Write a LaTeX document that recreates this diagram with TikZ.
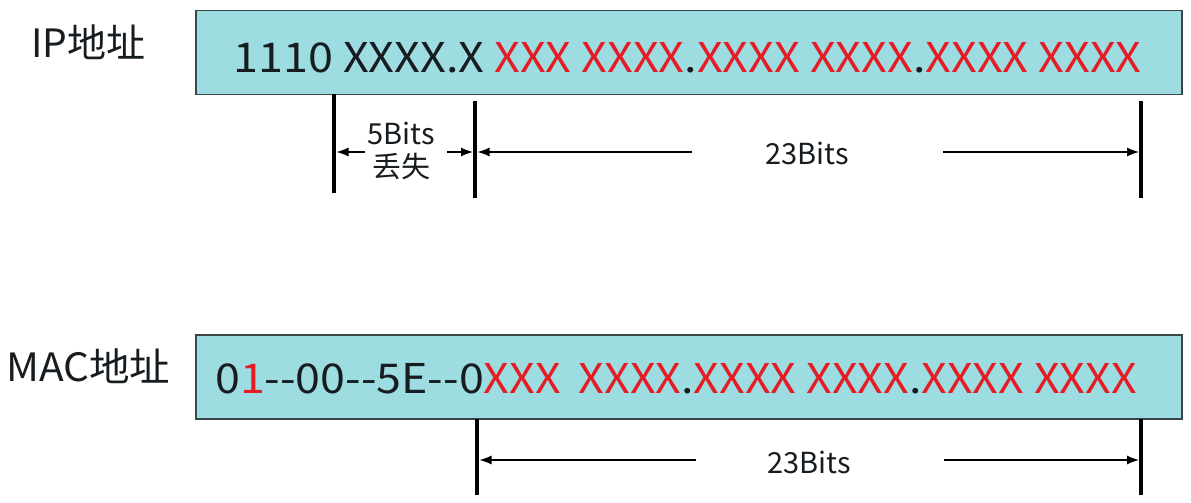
\documentclass[tikz,border=0pt]{standalone}
\usepackage{fontspec}
\setmainfont{Noto Sans CJK SC}
\usetikzlibrary{arrows.meta}
\definecolor{boxfill}{RGB}{157,221,226}
\definecolor{boxline}{RGB}{60,70,72}
\definecolor{xred}{RGB}{230,28,36}
\definecolor{ink}{RGB}{22,28,32}
\newcommand\rX[1]{\textcolor{xred}{#1}}
\newcommand\hy{-\kern0pt-\kern0pt}
\begin{document}
\begin{tikzpicture}[x=1pt,y=-1pt,
  addrbox/.style={draw=boxline,line width=1.5pt,fill=boxfill,minimum width=986pt,minimum height=84pt,inner sep=0pt},
  addrtext/.style={anchor=base west,inner sep=0pt,text=ink,font=\fontsize{41}{45}\selectfont},
  sidelabel/.style={anchor=base west,inner sep=0pt,text=ink,font=\fontsize{39}{42}\selectfont},
  bitlabel/.style={inner sep=0pt,text=ink,font=\fontsize{29}{32}\selectfont},
  tick/.style={line width=3.6pt,black},
  dim/.style={line width=1.2pt,black,-{Latex[length=12pt,width=9pt]}}]
\useasboundingbox (0,0) rectangle (1191,503);
\fill[white!97!green!2!white] (0,0) rectangle (1191,503);
% IP row
\node[addrbox] (ipbox) at (689,52.5) {};
\node[sidelabel] (iplabel) at (31,58) {IP地址};
\node[addrtext] (iptext) at (233,73) {\scalebox{1.096}[1]{1110 XXXX.X \rX{XXX XXXX}.\rX{XXXX XXXX}.\rX{XXXX XXXX}}};
\coordinate (ia1) at (334,94);  \coordinate (ia2) at (334,193);
\coordinate (ib1) at (475,101); \coordinate (ib2) at (475,198);
\coordinate (ic1) at (1141,101);\coordinate (ic2) at (1141,198);
\draw[tick] (ia1) -- (ia2);
\draw[tick] (ib1) -- (ib2);
\draw[tick] (ic1) -- (ic2);
\node[bitlabel] (fivebits) at (401,133) {5Bits};
\node[bitlabel] (lost) at (401,166) {丢失};
\coordinate (fa) at (365,152); \coordinate (fa2) at (336.5,152);
\coordinate (fb) at (447,152); \coordinate (fb2) at (473,152);
\draw[dim] (fa) -- (fa2);
\draw[dim] (fb) -- (fb2);
\node[bitlabel] (ipbits) at (807,153) {23Bits};
\coordinate (ga) at (692,152); \coordinate (ga2) at (477.5,152);
\coordinate (gb) at (943,152); \coordinate (gb2) at (1139,152);
\draw[dim] (ga) -- (ga2);
\draw[dim] (gb) -- (gb2);
% MAC row
\node[addrbox] (macbox) at (689,377) {};
\node[sidelabel] (maclabel) at (6,381) {\scalebox{1.04}[1]{MAC地址}};
\node[addrtext] (mactext) at (215,393) {\scalebox{1.092}[1]{0\rX{1}\hy00\hy5E\hy0\rX{XXX\hspace{0.4em}XXXX}.\rX{XXXX XXXX}.\rX{XXXX XXXX}}};
\coordinate (ma1) at (477,419); \coordinate (ma2) at (477,495);
\coordinate (mb1) at (1141,419);\coordinate (mb2) at (1141,495);
\draw[tick] (ma1) -- (ma2);
\draw[tick] (mb1) -- (mb2);
\node[bitlabel] (macbits) at (809,462) {23Bits};
\coordinate (na) at (696,460); \coordinate (na2) at (479.5,460);
\coordinate (nb) at (944,460); \coordinate (nb2) at (1139,460);
\draw[dim] (na) -- (na2);
\draw[dim] (nb) -- (nb2);
\end{tikzpicture}
\end{document}
